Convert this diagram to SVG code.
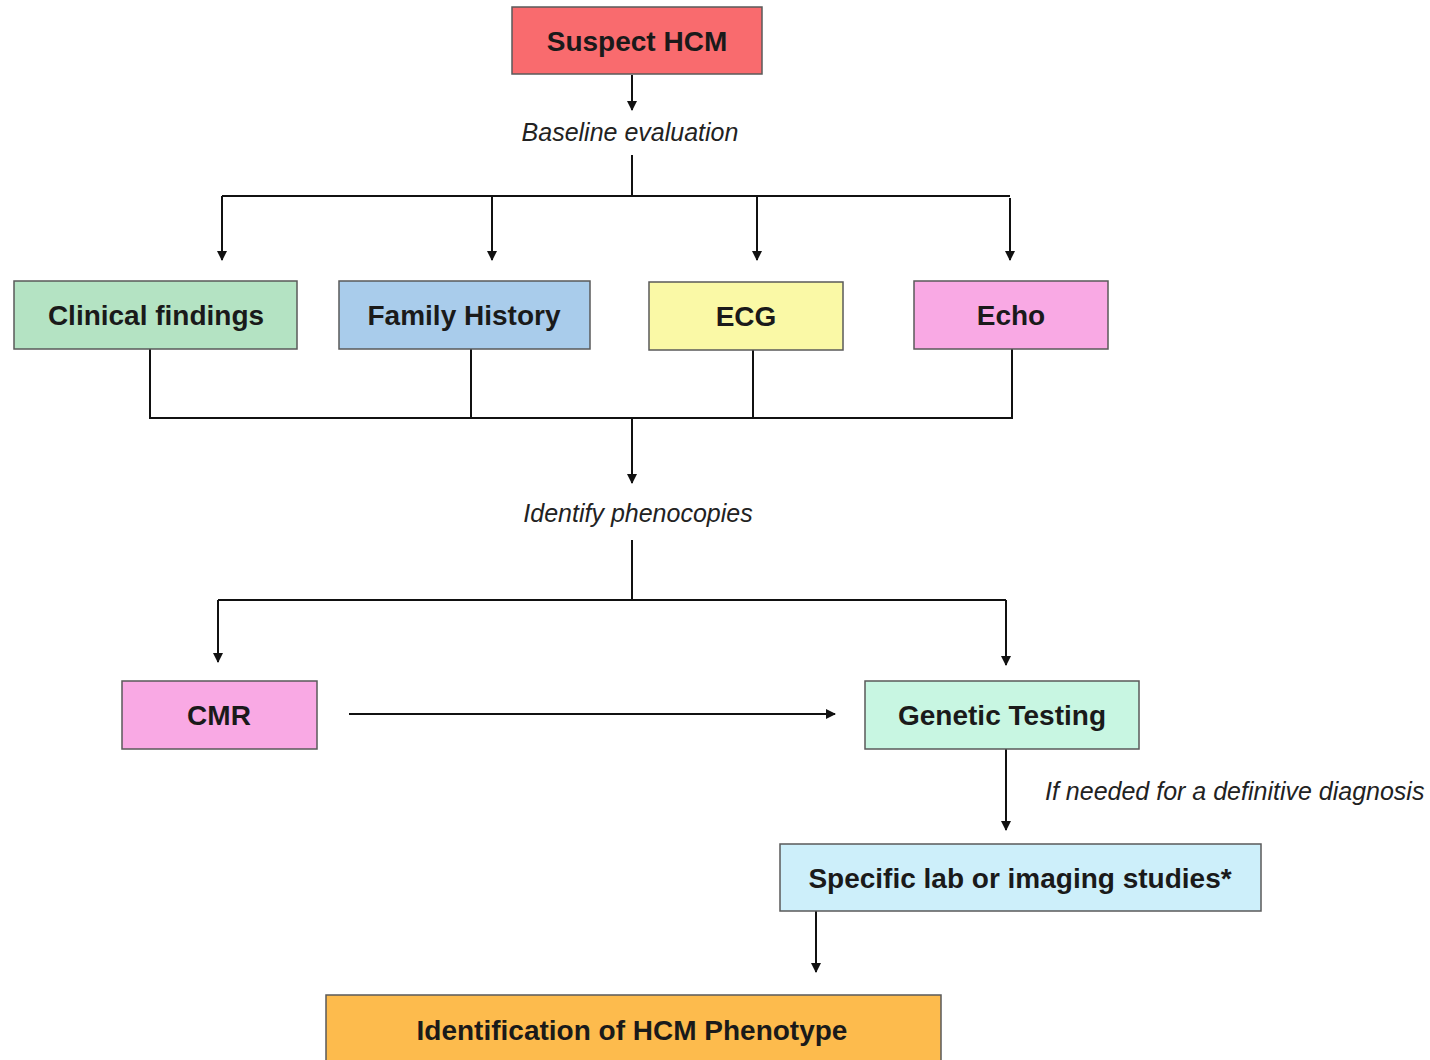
<svg xmlns="http://www.w3.org/2000/svg" width="1430" height="1060" viewBox="0 0 1430 1060">
<style>
.box{stroke:#5a5a5a;stroke-width:1.5}
.lbl{font-family:"Liberation Sans",Arial,sans-serif;font-weight:bold;font-size:28px;fill:#1a1a1a;text-anchor:middle}
.it{font-family:"Liberation Sans",Arial,sans-serif;font-style:italic;font-size:25px;fill:#222}
.ln{stroke:#111;stroke-width:2;fill:none}
.ar{stroke:#111;stroke-width:2;fill:none;marker-end:url(#ah)}
</style>
<defs>
<marker id="ah" viewBox="0 0 10 10" refX="9" refY="5" markerWidth="5" markerHeight="5" orient="auto" markerUnits="strokeWidth">
<path d="M0,0 L10,5 L0,10 z" fill="#111"/>
</marker>
</defs>
<rect width="1430" height="1060" fill="#fff"/>
<g id="connectors">
<path class="ar" d="M632,75 V110"/>
<path class="ln" d="M632,155 V196"/>
<path class="ln" d="M222,196 H1010"/>
<path class="ar" d="M222,196 V260"/>
<path class="ar" d="M492,196 V260"/>
<path class="ar" d="M757,197 V260"/>
<path class="ar" d="M1010,198 V260"/>
<path class="ln" d="M150,349 V418 H1012 V349"/>
<path class="ln" d="M471,349 V418"/>
<path class="ln" d="M753,350 V418"/>
<path class="ar" d="M632,418 V483"/>
<path class="ln" d="M632,540 V600"/>
<path class="ln" d="M218,600 H1006"/>
<path class="ar" d="M218,600 V662"/>
<path class="ar" d="M1006,600 V665"/>
<path class="ar" d="M349,714 H835"/>
<path class="ar" d="M1006,749 V830"/>
<path class="ar" d="M816,911 V972"/>
</g>
<g id="n-suspect"><rect class="box" x="512" y="7" width="250" height="67" fill="#F96B6E"/><text class="lbl" x="637" y="51">Suspect HCM</text></g>
<g id="t-baseline"><text class="it" x="630" y="141" text-anchor="middle">Baseline evaluation</text></g>
<g id="n-clinical"><rect class="box" x="14" y="281" width="283" height="68" fill="#B4E3C3"/><text class="lbl" x="156" y="325">Clinical findings</text></g>
<g id="n-family"><rect class="box" x="339" y="281" width="251" height="68" fill="#A9CCEB"/><text class="lbl" x="464" y="325">Family History</text></g>
<g id="n-ecg"><rect class="box" x="649" y="282" width="194" height="68" fill="#FAF9A6"/><text class="lbl" x="746" y="326">ECG</text></g>
<g id="n-echo"><rect class="box" x="914" y="281" width="194" height="68" fill="#F9A9E4"/><text class="lbl" x="1011" y="325">Echo</text></g>
<g id="t-phenocopies"><text class="it" x="638" y="522" text-anchor="middle">Identify phenocopies</text></g>
<g id="n-cmr"><rect class="box" x="122" y="681" width="195" height="68" fill="#F9A9E4"/><text class="lbl" x="219" y="725">CMR</text></g>
<g id="n-genetic"><rect class="box" x="865" y="681" width="274" height="68" fill="#C8F6E2"/><text class="lbl" x="1002" y="725">Genetic Testing</text></g>
<g id="t-ifneeded"><text class="it" x="1045" y="800">If needed for a definitive diagnosis</text></g>
<g id="n-specific"><rect class="box" x="780" y="844" width="481" height="67" fill="#CDEFFA"/><text class="lbl" x="1020" y="888">Specific lab or imaging studies*</text></g>
<g id="n-ident"><rect class="box" x="326" y="995" width="615" height="80" fill="#FDBB4D"/><text class="lbl" x="632" y="1040">Identification of HCM Phenotype</text></g>
</svg>
